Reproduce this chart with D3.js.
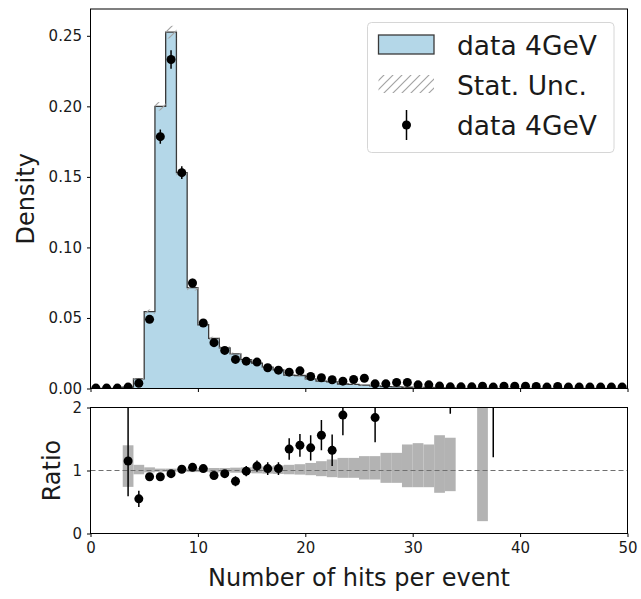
<!DOCTYPE html>
<html><head><meta charset="utf-8">
<script src="https://cdn.jsdelivr.net/npm/d3@7"></script>
<style>body{margin:0;background:#fff}svg{display:block}text{font-family:"DejaVu Sans",sans-serif;fill:#1a1a1a}</style>
</head><body>
<script>
// ---------- data (bins of width 1 from 0 to 50) ----------
const binEdges = d3.range(0, 51);
const histDensity = [0,0,0,0.001,0.0068,0.0545,0.2,0.2526,0.153,0.0715,0.0452,0.0355,0.0288,0.0245,0.0205,0.018,0.0152,0.0132,0.0095,0.0092,0.0068,0.0052,0.0047,0.0032,0.0029,0.0024,0.0019,0.0014,0.0012,0.0009,0.0008,0.0007,0.0005,0.0005,0,0,0.0002,0,0,0,0,0,0,0,0,0,0,0,0,0];
const pointDensity = [0.0003,0.0003,0.0003,0.001,0.0037,0.049,0.1785,0.2332,0.153,0.0748,0.0464,0.0325,0.027,0.0206,0.0194,0.0187,0.0147,0.013,0.0116,0.0125,0.0085,0.0076,0.0062,0.0052,0.0064,0.0073,0.0033,0.0033,0.0043,0.0043,0.0026,0.0026,0.0017,0.0012,0.0012,0.0012,0.0016,0.001,0.0016,0.0016,0.0016,0.0014,0.001,0.0014,0.001,0.001,0.001,0.001,0.001,0.001];
const pointErr = [0,0,0,0.0005,0.0006,0.002,0.005,0.0065,0.0045,0.003,0.0022,0.0018,0.0016,0.0015,0.0015,0.0015,0.0014,0.0013,0.0012,0.0012,0.001,0.001,0.0009,0.0009,0.0009,0.0009,0.0007,0.0007,0.0007,0.0007,0.0006,0.0006,0.0005,0.0004,0.0004,0.0004,0.0004,0.0004,0.0004,0.0004,0.0004,0.0004,0.0004,0.0004,0.0004,0.0004,0.0004,0.0004,0.0004,0.0004];
// stat. unc. of the histogram in the top panel (absolute, density units)
const histErr = [0,0,0,0.0004,0.0006,0.0015,0.003,0.0045,0.003,0.002,0.0015,0.0012,0.001,0.001,0.0009,0.0009,0.0008,0.0008,0.0007,0.0007,0.0006,0.0006,0.0005,0.0005,0.0004,0.0004,0.0004,0.0003,0.0003,0.0003,0.0003,0.0003,0.0002,0.0002,0,0,0.0001,0,0,0,0,0,0,0,0,0,0,0,0,0];
// ratio panel: stat. unc. band of histogram (lower / upper), null = none
const bandLow  = [null,null,null,0.74,0.94,0.97,0.98,0.98,0.98,0.975,0.975,0.97,0.97,0.965,0.96,0.955,0.95,0.945,0.94,0.935,0.926,0.91,0.894,0.884,0.884,0.857,0.857,0.804,0.804,0.735,0.735,0.735,0.646,0.672,null,null,0.196,null,null,null,null,null,null,null,null,null,null,null,null,null];
const bandHigh = [null,null,null,1.40,1.09,1.05,1.03,1.03,1.03,1.035,1.035,1.04,1.04,1.045,1.05,1.06,1.065,1.08,1.09,1.10,1.12,1.148,1.175,1.20,1.20,1.228,1.228,1.28,1.28,1.413,1.434,1.413,1.56,1.52,null,null,2.01,null,null,null,null,null,null,null,null,null,null,null,null,null];
// ratio points with lower / upper errors
const ratio   = [null,null,null,1.15,0.55,0.90,0.90,0.95,1.02,1.05,1.03,0.92,0.95,0.83,0.99,1.07,1.03,1.03,1.34,1.40,1.36,1.56,1.32,1.88,null,null,1.84,null,null,null,null,null,null,2.3,null,null,null,2.6,null,null,null,null,null,null,null,null,null,null,null,null];
const ratioErrLow  = [0,0,0,0.56,0.13,0.03,0.03,0.03,0.03,0.03,0.04,0.05,0.05,0.08,0.08,0.09,0.1,0.1,0.17,0.18,0.2,0.24,0.25,0.32,0,0,0.39,0,0,0,0,0,0,0.4,0,0,0,1.39,0,0,0,0,0,0,0,0,0,0,0,0];
const ratioErrHigh = [0,0,0,0.9,0.13,0.03,0.03,0.03,0.03,0.03,0.04,0.05,0.05,0.08,0.08,0.09,0.1,0.1,0.17,0.18,0.2,0.24,0.25,0.32,0,0,0.39,0,0,0,0,0,0,0.4,0,0,0,1.39,0,0,0,0,0,0,0,0,0,0,0,0];
const densityTicks = [0, 0.05, 0.10, 0.15, 0.20, 0.25];
const ratioTicks = [0, 1, 2];
const xTicks = [0, 10, 20, 30, 40, 50];
const legendLabels = ["data 4GeV", "Stat. Unc.", "data 4GeV"];
const xLabel = "Number of hits per event";

// ---------- layout ----------
const W = 641, H = 599;
const svg = d3.select("body").append("svg").attr("width", W).attr("height", H);
const x = d3.scaleLinear().domain([0, 50]).range([90.5, 627.5]);
const yT = d3.scaleLinear().domain([0, 0.269]).range([388.5, 9]);
const yR = d3.scaleLinear().domain([0, 2]).range([533.5, 407.5]);

const defs = svg.append("defs");
const hatch = defs.append("pattern").attr("id", "hatch").attr("patternUnits", "userSpaceOnUse")
  .attr("width", 9).attr("height", 9);
hatch.append("path").attr("d", "M-1,1 l2,-2 M0,9 l9,-9 M8,10 l2,-2").attr("stroke", "#a3a3a3").attr("stroke-width", 1.2);
defs.append("clipPath").attr("id", "clipT").append("rect")
  .attr("x", x(0)).attr("y", yT(0.269)).attr("width", x(50) - x(0)).attr("height", yT(0) - yT(0.269));
defs.append("clipPath").attr("id", "clipR").append("rect")
  .attr("x", x(0)).attr("y", yR(2)).attr("width", x(50) - x(0)).attr("height", yR(0) - yR(2));

const bins = d3.range(50).map(i => ({
  i, x0: binEdges[i], x1: binEdges[i + 1], h: histDensity[i], he: histErr[i], p: pointDensity[i], pe: pointErr[i],
  lo: bandLow[i], hi: bandHigh[i], r: ratio[i], rl: ratioErrLow[i], rh: ratioErrHigh[i]
}));

// ---------- top panel ----------
const gT = svg.append("g").attr("clip-path", "url(#clipT)");
const stepPts = bins.map(b => [b.x0, b.h]).concat([[50, histDensity[49]]]);
gT.append("path").datum(stepPts)
  .attr("d", d3.area().curve(d3.curveStepAfter).x(d => x(d[0])).y0(yT(0)).y1(d => yT(d[1])))
  .attr("fill", "#b4d7e8");
const outline = [[0, 0]].concat(bins.map(b => [b.x0, b.h])).concat([[50, histDensity[49]], [50, 0]]);
gT.append("path").datum(outline)
  .attr("d", d3.line().curve(d3.curveStepAfter).x(d => x(d[0])).y(d => yT(d[1])))
  .attr("fill", "none").attr("stroke", "#3a3a3a").attr("stroke-width", 1.3);
gT.selectAll(".hatch").data(bins.filter(b => b.he > 0)).join("rect")
  .attr("x", b => x(b.x0)).attr("width", b => x(b.x1) - x(b.x0))
  .attr("y", b => yT(b.h + b.he)).attr("height", b => yT(b.h - b.he) - yT(b.h + b.he))
  .attr("fill", "url(#hatch)");
gT.selectAll(".pe").data(bins.filter(b => b.pe > 0)).join("line")
  .attr("x1", b => x(b.x0 + 0.5)).attr("x2", b => x(b.x0 + 0.5))
  .attr("y1", b => yT(b.p - b.pe)).attr("y2", b => yT(b.p + b.pe))
  .attr("stroke", "#000").attr("stroke-width", 1.5);
gT.selectAll(".pt").data(bins).join("circle")
  .attr("cx", b => x(b.x0 + 0.5)).attr("cy", b => yT(b.p)).attr("r", 4.5).attr("fill", "#000");

// ---------- ratio panel ----------
const gR = svg.append("g").attr("clip-path", "url(#clipR)");
gR.selectAll(".band").data(bins.filter(b => b.lo != null)).join("rect")
  .attr("x", b => x(b.x0)).attr("width", b => x(b.x1) - x(b.x0))
  .attr("y", b => yR(b.hi)).attr("height", b => yR(b.lo) - yR(b.hi))
  .attr("fill", "#b3b3b3");
gR.append("line").attr("x1", x(0)).attr("x2", x(50)).attr("y1", yR(1)).attr("y2", yR(1))
  .attr("stroke", "#707070").attr("stroke-width", 1).attr("stroke-dasharray", "5,3");
const rb = bins.filter(b => b.r != null);
gR.selectAll(".re").data(rb).join("line")
  .attr("x1", b => x(b.x0 + 0.5)).attr("x2", b => x(b.x0 + 0.5))
  .attr("y1", b => yR(b.r - b.rl)).attr("y2", b => yR(b.r + b.rh))
  .attr("stroke", "#000").attr("stroke-width", 1.5);
gR.selectAll(".rp").data(rb).join("circle")
  .attr("cx", b => x(b.x0 + 0.5)).attr("cy", b => yR(b.r)).attr("r", 4.5).attr("fill", "#000");

// ---------- axes ----------
function frame(y0, y1) {
  svg.append("rect").attr("x", x(0)).attr("y", y1).attr("width", x(50) - x(0)).attr("height", y0 - y1)
    .attr("fill", "none").attr("stroke", "#000").attr("stroke-width", 1);
}
frame(yT(0), yT(0.269));
frame(yR(0), yR(2));
const tickStyle = g => { g.select(".domain").remove(); g.selectAll(".tick line").attr("stroke", "#000"); g.selectAll(".tick text").attr("font-size", 15).attr("fill", "#1a1a1a").attr("font-family", "DejaVu Sans"); };
svg.append("g").attr("transform", `translate(0,${yT(0)})`)
  .call(d3.axisBottom(x).tickValues(xTicks).tickSize(3.5).tickFormat("")).call(tickStyle);
svg.append("g").attr("transform", `translate(0,${yR(0)})`)
  .call(d3.axisBottom(x).tickValues(xTicks).tickSize(3.5).tickPadding(5).tickFormat(d3.format("d"))).call(tickStyle);
svg.append("g").attr("transform", `translate(${x(0)},0)`)
  .call(d3.axisLeft(yT).tickValues(densityTicks).tickSize(3.5).tickPadding(5).tickFormat(d3.format(".2f"))).call(tickStyle);
svg.append("g").attr("transform", `translate(${x(0)},0)`)
  .call(d3.axisLeft(yR).tickValues(ratioTicks).tickSize(3.5).tickPadding(5).tickFormat(d3.format("d"))).call(tickStyle);

svg.append("text").attr("x", (x(0) + x(50)) / 2).attr("y", 586).attr("text-anchor", "middle")
  .attr("font-size", 24).text(xLabel);
svg.append("text").attr("transform", `translate(34,${(yT(0) + yT(0.269)) / 2}) rotate(-90)`)
  .attr("text-anchor", "middle").attr("font-size", 24).text("Density");
svg.append("text").attr("transform", `translate(60,${(yR(0) + yR(2)) / 2}) rotate(-90)`)
  .attr("text-anchor", "middle").attr("font-size", 24).text("Ratio");

// ---------- legend ----------
const lg = svg.append("g");
lg.append("rect").attr("x", 367.5).attr("y", 22.5).attr("width", 246.5).attr("height", 130).attr("rx", 4)
  .attr("fill", "#fff").attr("fill-opacity", 0.8).attr("stroke", "#d6d6d6").attr("stroke-width", 1);
lg.append("rect").attr("x", 378.5).attr("y", 35).attr("width", 55.5).attr("height", 19)
  .attr("fill", "#b4d7e8").attr("stroke", "#3a3a3a").attr("stroke-width", 1.3);
lg.append("rect").attr("x", 378.5).attr("y", 75).attr("width", 55.5).attr("height", 18).attr("fill", "url(#hatch)");
lg.append("line").attr("x1", 406.5).attr("x2", 406.5).attr("y1", 110).attr("y2", 140).attr("stroke", "#000").attr("stroke-width", 1.5);
lg.append("circle").attr("cx", 406.5).attr("cy", 125).attr("r", 4.5).attr("fill", "#000");
lg.selectAll(".lt").data(legendLabels).join("text")
  .attr("x", 457).attr("y", (d, i) => 55 + i * 40).attr("font-size", 26.5).text(d => d);
</script>
</body></html>
